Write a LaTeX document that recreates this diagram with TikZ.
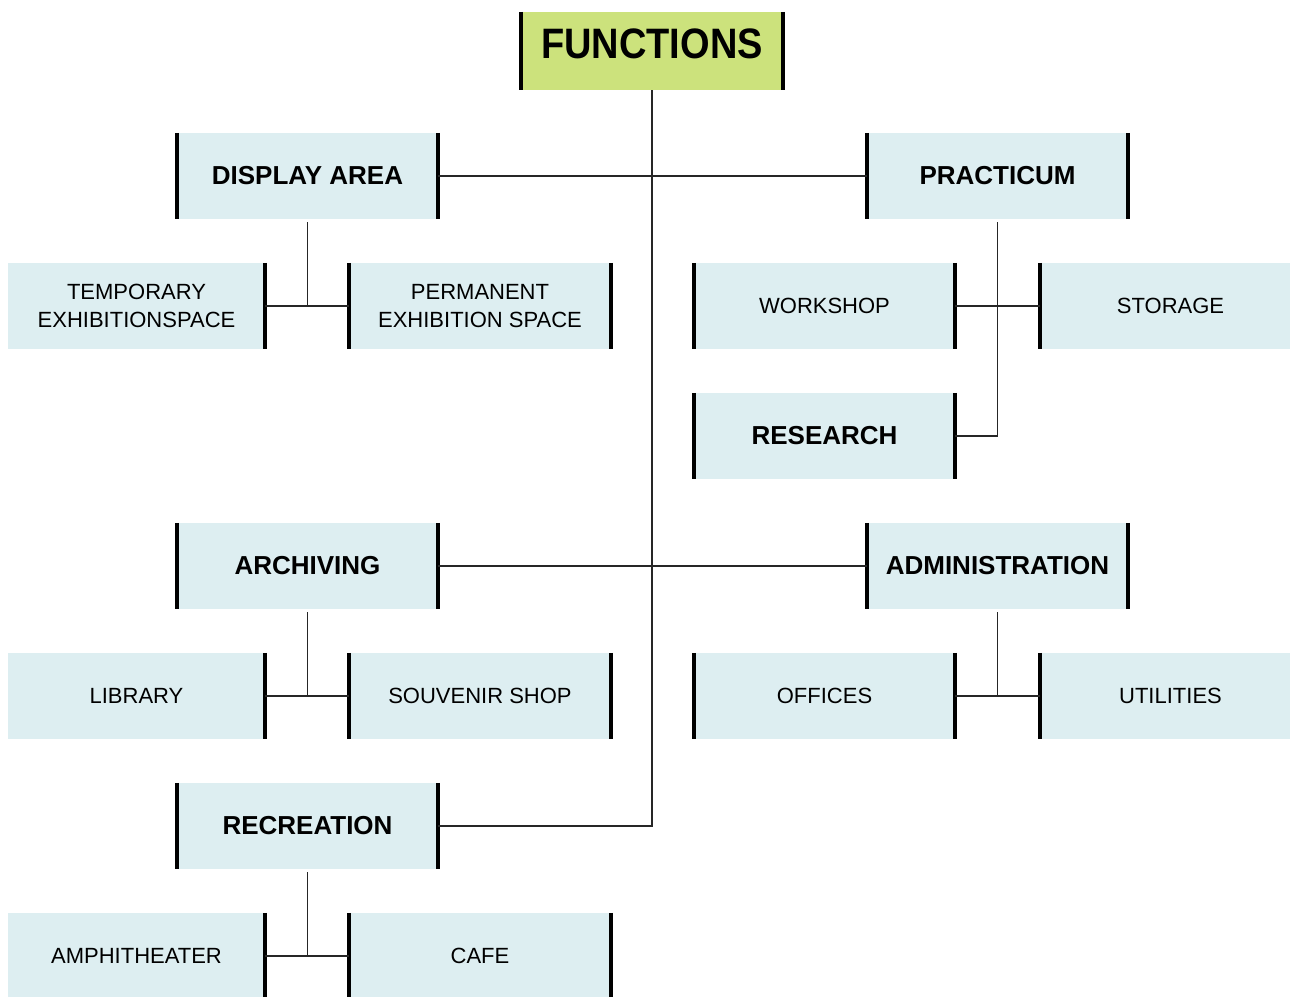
\documentclass[tikz,border=0pt]{standalone}
\usepackage{fontspec}
\setmainfont{Liberation Sans}
\definecolor{boxblue}{HTML}{DDEEF1}
\definecolor{boxgreen}{HTML}{CCE27C}
\begin{document}
\begin{tikzpicture}[x=1pt,y=-1pt,
  bx/.style={fill=boxblue, draw=none, minimum width=261pt, minimum height=86pt, inner sep=0pt, align=center},
  head/.style={bx, font=\fontsize{26}{30}\selectfont\bfseries},
  leaf/.style={bx, font=\fontsize{22}{28}\selectfont},
  topbox/.style={fill=boxgreen, draw=none, minimum width=262pt, minimum height=78pt, inner sep=0pt},
  toptext/.style={inner sep=0pt, font=\fontsize{38}{44}\selectfont\bfseries},
  bar/.style={line width=4pt, black},
  link/.style={line width=1.3pt, black!85}]
\useasboundingbox (0,0) rectangle (1290,996);
\clip (0,0) rectangle (1290,996);
\fill[white] (0,0) rectangle (1290,996);

\node[topbox] (fun) at (652,51) {};
\node[toptext] (funtext) at (652,44) {\scalebox{1}[1.12]{FUNCTIONS}};

\node[head] (disp) at (307.5,176) {DISPLAY AREA};
\node[head] (prac) at (997.5,176) {PRACTICUM};
\node[leaf, minimum width=257pt] (temp) at (136.5,306) {TEMPORARY\\EXHIBITIONSPACE};
\node[leaf] (perm) at (480,306) {PERMANENT\\EXHIBITION SPACE};
\node[leaf] (work) at (824.5,306) {WORKSHOP};
\node[leaf] (stor) at (1170.5,306) {STORAGE};
\node[head] (res) at (824.5,436) {RESEARCH};

\node[head] (arch) at (307.5,566) {ARCHIVING};
\node[head] (adm) at (997.5,566) {ADMINISTRATION};
\node[leaf, minimum width=257pt] (lib) at (136.5,696) {LIBRARY};
\node[leaf] (souv) at (480,696) {SOUVENIR SHOP};
\node[leaf] (off) at (824.5,696) {OFFICES};
\node[leaf] (util) at (1170.5,696) {UTILITIES};

\node[head] (rec) at (307.5,826) {RECREATION};
\node[leaf, minimum width=257pt] (amph) at (136.5,956) {AMPHITHEATER};
\node[leaf] (cafe) at (480,956) {CAFE};

% thick side bars
\foreach \n in {fun,disp,prac,perm,work,res,arch,adm,souv,off,rec,cafe}
  \draw[bar] (\n.north west) -- (\n.south west) (\n.north east) -- (\n.south east);
\foreach \n in {temp,lib,amph}
  \draw[bar] (\n.north east) -- (\n.south east);
\foreach \n in {stor,util}
  \draw[bar] (\n.north west) -- (\n.south west);

% connectors
\draw[link] (fun.south) -- (fun.south |- rec.east) -- (rec.east);
\draw[link] (disp.east) -- (prac.west);
\draw[link] (arch.east) -- (adm.west);

\draw[link, shorten <=3pt] (disp.south) -- (disp.south |- temp.east);
\draw[link] (temp.east) -- (perm.west);
\draw[link, shorten <=3pt] (prac.south) -- (prac.south |- res.east) -- (res.east);
\draw[link] (work.east) -- (stor.west);

\draw[link, shorten <=3pt] (arch.south) -- (arch.south |- lib.east);
\draw[link] (lib.east) -- (souv.west);
\draw[link, shorten <=3pt] (adm.south) -- (adm.south |- off.east);
\draw[link] (off.east) -- (util.west);

\draw[link, shorten <=3pt] (rec.south) -- (rec.south |- amph.east);
\draw[link] (amph.east) -- (cafe.west);
\end{tikzpicture}
\end{document}
